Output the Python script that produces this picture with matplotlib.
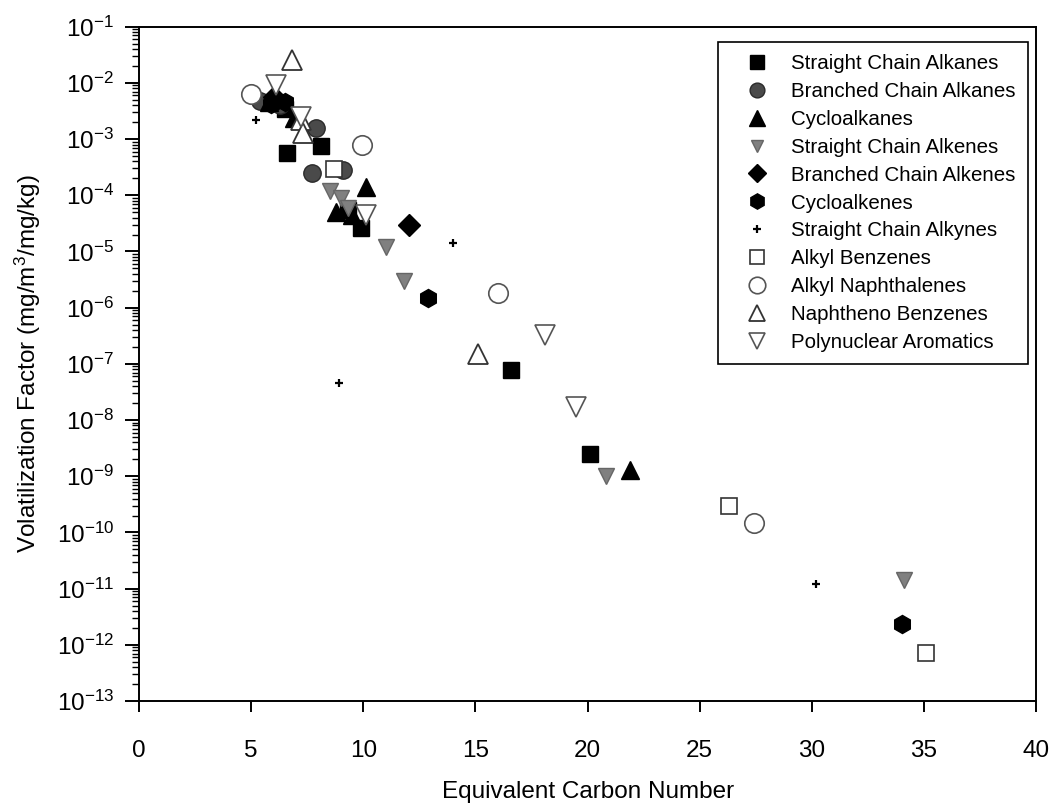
import matplotlib
matplotlib.use("Agg")
import matplotlib.pyplot as plt
from matplotlib.ticker import LogLocator, LogFormatterSciNotation, MultipleLocator, NullFormatter

plt.rcParams['font.family'] = ['Liberation Sans', 'DejaVu Sans']
plt.rcParams['mathtext.default'] = 'regular'
plt.rcParams['axes.unicode_minus'] = False

# ---- data ----
sca_x = [6.0, 6.5, 6.6, 8.1, 9.3, 9.9, 16.6, 20.1]
sca_y = [4.5e-3, 3.5e-3, 5.7e-4, 7.6e-4, 5.5e-5, 2.6e-5, 7.9e-8, 2.5e-9]

bca_x = [5.4, 6.3, 7.9, 7.7, 9.1]
bca_y = [4.8e-3, 4.0e-3, 1.6e-3, 2.5e-4, 2.8e-4]

cyc_x = [5.8, 6.9, 8.8, 9.5, 10.1, 21.9]
cyc_y = [4.5e-3, 2.4e-3, 5.0e-5, 4.5e-5, 1.4e-4, 1.3e-9]

sce_x = [8.5, 9.0, 9.3, 11.0, 11.8, 20.8, 34.1]
sce_y = [1.2e-4, 9e-5, 6e-5, 1.2e-5, 3e-6, 1e-9, 1.4e-11]

bce_x = [6.0, 12.05]
bce_y = [5.5e-3, 3e-5]

cye_x = [5.9, 6.5, 12.9, 34.0]
cye_y = [4.2e-3, 4.5e-3, 1.5e-6, 2.3e-12]

scy_x = [5.2, 8.9, 14.0, 30.2]
scy_y = [2.2e-3, 4.5e-8, 1.4e-5, 1.2e-11]

ab_x = [8.7, 26.3, 35.1]
ab_y = [2.9e-4, 3e-10, 7.2e-13]

an_x = [5.0, 9.95, 16.0, 27.4]
an_y = [6.4e-3, 8e-4, 1.8e-6, 1.5e-10]

nb_x = [6.8, 7.2, 7.3, 15.1]
nb_y = [2.6e-2, 2.2e-3, 1.3e-3, 1.5e-7]

pa_x = [6.1, 7.2, 10.1, 18.1, 19.5]
pa_y = [9e-3, 2.5e-3, 4.5e-5, 3.2e-7, 1.7e-8]

series = [
    ("Straight Chain Alkanes", sca_x, sca_y, dict(marker="s", ms=11.5, mfc="black", mec="black")),
    ("Branched Chain Alkanes", bca_x, bca_y, dict(marker="o", ms=12.5, mfc="#4a4a4a", mec="#2a2a2a")),
    ("Cycloalkanes", cyc_x, cyc_y, dict(marker="^", ms=13, mfc="black", mec="black")),
    ("Straight Chain Alkenes", sce_x, sce_y, dict(marker="v", ms=11, mfc="#808080", mec="#666666")),
    ("Branched Chain Alkenes", bce_x, bce_y, dict(marker="D", ms=11, mfc="black", mec="black")),
    ("Cycloalkenes", cye_x, cye_y, dict(marker="h", ms=13, mfc="black", mec="black")),
    ("Straight Chain Alkynes", scy_x, scy_y, dict(marker="+", ms=6, mew=1.6, color="black")),
    ("Alkyl Benzenes", ab_x, ab_y, dict(marker="s", ms=12, mfc="white", mec="#333333", mew=1.2)),
    ("Alkyl Naphthalenes", an_x, an_y, dict(marker="o", ms=14, mfc="white", mec="#555555", mew=1.2)),
    ("Naphtheno Benzenes", nb_x, nb_y, dict(marker="^", ms=14, mfc="white", mec="#333333", mew=1.3)),
    ("Polynuclear Aromatics", pa_x, pa_y, dict(marker="v", ms=14, mfc="white", mec="#555555", mew=1.2)),
]

fig = plt.figure(figsize=(10.54, 8.09), dpi=100)
ax = fig.add_axes([0.132, 0.1335, 0.851, 0.8335])

for name, xs, ys, style in series:
    ax.plot(xs, ys, linestyle="none", label=name, **style)

ax.set_yscale("log")
ax.set_xlim(0, 40)
ax.set_ylim(1e-13, 1e-1)

ax.xaxis.set_major_locator(MultipleLocator(5))
ax.yaxis.set_major_locator(LogLocator(base=10, numticks=20))
ax.yaxis.set_major_formatter(LogFormatterSciNotation())
ax.yaxis.set_minor_locator(LogLocator(base=10, subs=range(2, 10), numticks=20))
ax.yaxis.set_minor_formatter(NullFormatter())

ax.tick_params(axis="x", which="major", direction="out", length=8, width=1.4, labelsize=17.5, pad=20)
ax.tick_params(axis="y", which="major", direction="out", length=10, width=1.4, labelsize=17.5, pad=8)
ax.tick_params(axis="y", which="minor", direction="out", length=5, width=1.0)

for s in ax.spines.values():
    s.set_linewidth(1.4)

ax.set_xlabel("Equivalent Carbon Number", fontsize=17.5, labelpad=14)
ax.set_ylabel("Volatilization Factor (mg/m$^3$/mg/kg)", fontsize=17.5, labelpad=10)

leg = ax.legend(loc="upper left", bbox_to_anchor=(718 / 1054, 1 - 42 / 809),
                bbox_transform=fig.transFigure, fontsize=14.8,
                frameon=True, fancybox=False, edgecolor="black", framealpha=1,
                labelspacing=0.43, handlelength=2.6, handletextpad=0.35,
                borderpad=0.6, borderaxespad=0, numpoints=1, markerscale=0.85)
leg.get_frame().set_linewidth(1.2)

fig.savefig("out.png", dpi=100)
